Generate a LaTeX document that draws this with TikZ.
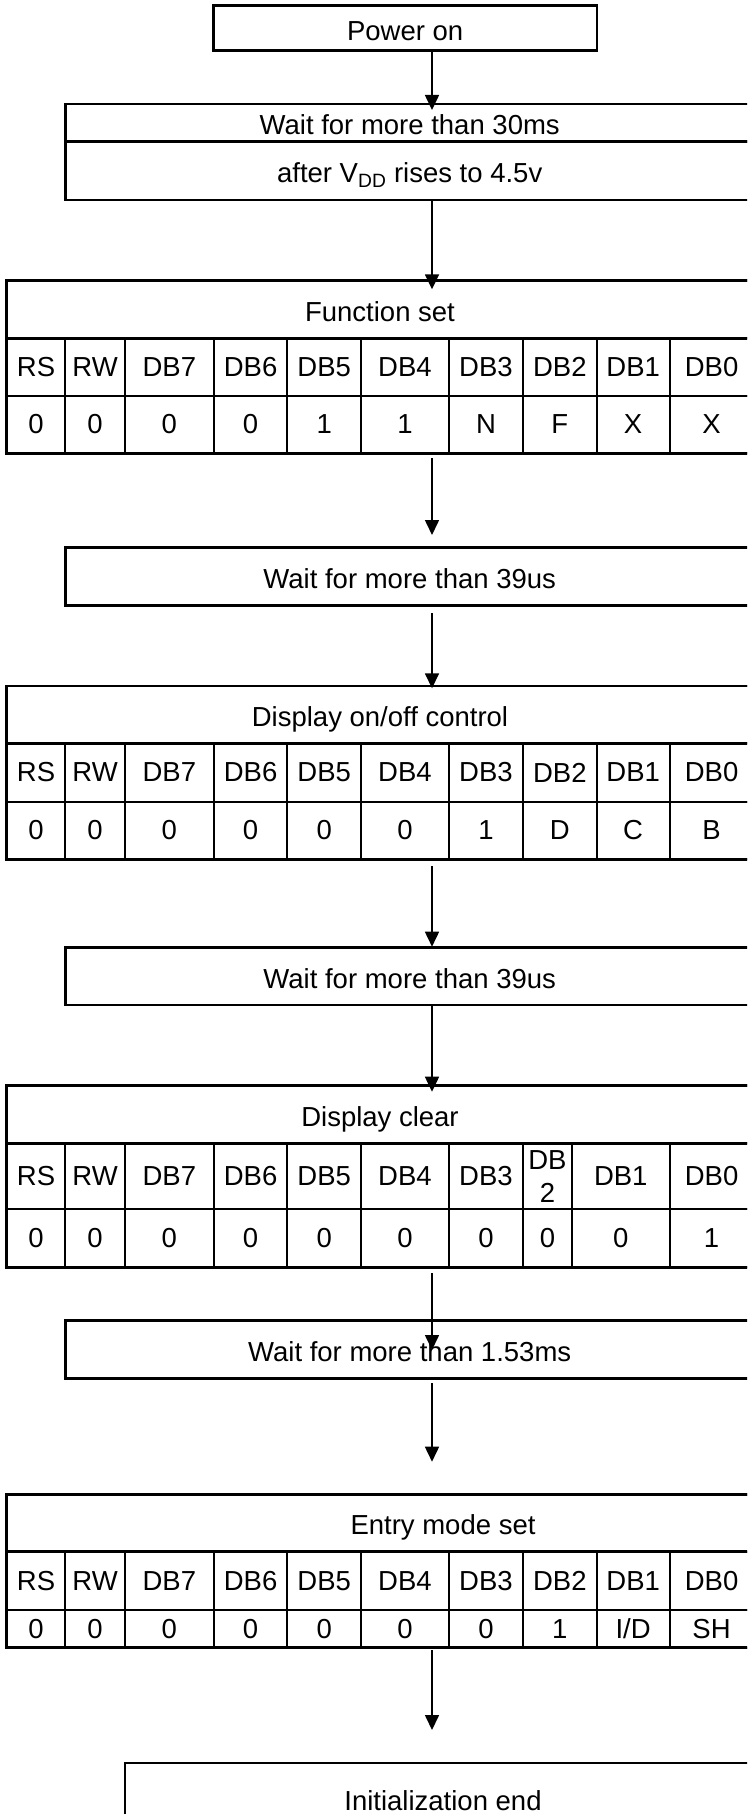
\documentclass[tikz,border=0pt]{standalone}
\usepackage{fontspec}
\setmainfont{Liberation Sans}
\usetikzlibrary{arrows.meta}
\begin{document}
\begin{tikzpicture}[x=1pt, y=-1pt,
		every node/.style={font=\fontsize{27.5}{33}\selectfont, inner sep=0pt, outer sep=0pt},
		box/.style={draw, line width=2.6pt, anchor=north west, text height=23.7pt, text depth=0pt},
		cell/.style={draw, line width=2pt, anchor=north west, align=center},
		outline/.style={line width=2.6pt},
		arr/.style={line width=1.6pt, -{Triangle[width=14pt,length=15pt]}}]
	\useasboundingbox (0,0) rectangle (747,1814);
	\clip (0,0) rectangle (747,1814);
	\coordinate (axis) at (432,0);
	\node[box, minimum width=383.6pt, minimum height=45pt] (power) at (213.4,5.7) {Power on};
	\node[box, minimum width=688.8pt, minimum height=37.7pt] (w30a) at (65.3,104) {Wait for more than 30ms};
	\node[box, minimum width=688.8pt, minimum height=58.3pt] (w30b) at (65.3,141.7) {after V\textsubscript{DD} rises to 4.5v};
	\node[box, minimum width=746.6pt, minimum height=57.6pt] (fset) at (6.7,280.7) {Function set};
	\foreach \cx/\cw/\hd/\bt [count=\i] in {6.7/58.6/RS/0, 65.3/59.5/RW/0, 124.8/89.1/DB7/0, 213.9/73.4/DB6/0, 287.3/73.8/DB5/1, 361.1/87.7/DB4/1, 448.8/74.3/DB3/N, 523.1/73.4/DB2/F, 596.5/73.3/DB1/X, 669.8/83.5/DB0/X} {
		\node[cell, minimum width=\cw pt, minimum height=57.4pt] (fsh\i) at (\cx,338.3) {\hd};
		\node[cell, minimum width=\cw pt, minimum height=57.6pt] (fsv\i) at (\cx,395.7) {\bt};
	}
	\draw[outline] (fset.north west) rectangle (fsv10.south east);
	\node[box, minimum width=688.8pt, minimum height=58.4pt] (w39a) at (65.3,547.3) {Wait for more than 39us};
	\node[box, minimum width=746.6pt, minimum height=57.3pt] (doc) at (6.7,686) {Display on/off control};
	\foreach \cx/\cw/\hd/\bt [count=\i] in {6.7/58.6/RS/0, 65.3/59.5/RW/0, 124.8/89.1/DB7/0, 213.9/73.4/DB6/0, 287.3/73.8/DB5/0, 361.1/87.7/DB4/0, 448.8/74.3/DB3/1, 523.1/73.4/DB2/D, 596.5/73.3/DB1/C, 669.8/83.5/DB0/B} {
		\node[cell, minimum width=\cw pt, minimum height=58.4pt] (doh\i) at (\cx,743.3) {\hd};
		\node[cell, minimum width=\cw pt, minimum height=57.6pt] (dov\i) at (\cx,801.7) {\bt};
	}
	\draw[outline] (doc.north west) rectangle (dov10.south east);
	\node[box, minimum width=688.8pt, minimum height=57.3pt] (w39b) at (65.3,947.7) {Wait for more than 39us};
	\node[box, minimum width=746.6pt, minimum height=57.6pt] (dclr) at (6.7,1085.7) {Display clear};
	\foreach \cx/\cw/\hd/\bt [count=\i] in {6.7/58.6/RS/0, 65.3/59.5/RW/0, 124.8/89.1/DB7/0, 213.9/73.4/DB6/0, 287.3/73.8/DB5/0, 361.1/87.7/DB4/0, 448.8/74.3/DB3/0, 523.1/48.6/{DB\\2}/0, 571.7/98.1/DB1/0, 669.8/83.5/DB0/1} {
		\node[cell, minimum width=\cw pt, minimum height=66pt] (dch\i) at (\cx,1143.3) {\hd};
		\node[cell, minimum width=\cw pt, minimum height=58pt] (dcv\i) at (\cx,1209.3) {\bt};
	}
	\draw[outline] (dclr.north west) rectangle (dcv10.south east);
	\node[box, minimum width=688.8pt, minimum height=57.6pt] (w153) at (65.3,1320.7) {Wait for more than 1.53ms};
	\node[box, minimum width=746.6pt, minimum height=57.4pt] (ems) at (6.7,1494.3) {\hspace*{126pt}Entry mode set};
	\foreach \cx/\cw/\hd/\bt [count=\i] in {6.7/58.6/RS/0, 65.3/59.5/RW/0, 124.8/89.1/DB7/0, 213.9/73.4/DB6/0, 287.3/73.8/DB5/0, 361.1/87.7/DB4/0, 448.8/74.3/DB3/0, 523.1/73.4/DB2/1, 596.5/73.3/DB1/{I/D}, 669.8/83.5/DB0/SH} {
		\node[cell, minimum width=\cw pt, minimum height=58.3pt] (emh\i) at (\cx,1551.7) {\hd};
		\node[cell, minimum width=\cw pt, minimum height=37.7pt] (emv\i) at (\cx,1610) {\bt};
	}
	\draw[outline] (ems.north west) rectangle (emv10.south east);
	\node[box, minimum width=636.4pt, minimum height=70.6pt] (iend) at (124.8,1763) {Initialization end};
	\draw[arr, shorten >=-6pt] (axis |- power.south) -- (axis |- w30a.north);
	\draw[arr, shorten >=-8.6pt] (axis |- w30b.south) -- (axis |- fset.north);
	\draw[arr, shorten <=5pt, shorten >=12.3pt] (axis |- fsv1.south) -- (axis |- w39a.north);
	\draw[arr, shorten <=7.6pt, shorten >=-2.3pt] (axis |- w39a.south) -- (axis |- doc.north);
	\draw[arr, shorten <=6.7pt, shorten >=1pt] (axis |- dov1.south) -- (axis |- w39b.north);
	\draw[arr, shorten >=-6pt] (axis |- w39b.south) -- (axis |- dclr.north);
	\draw[arr, shorten <=6pt, shorten >=-29.3pt] (axis |- dcv1.south) -- (axis |- w153.north);
	\draw[arr, shorten <=4.7pt, shorten >=32.6pt] (axis |- w153.south) -- (axis |- ems.north);
	\draw[arr, shorten <=2.3pt, shorten >=33pt] (axis |- emv1.south) -- (axis |- iend.north);
\end{tikzpicture}
\end{document}
